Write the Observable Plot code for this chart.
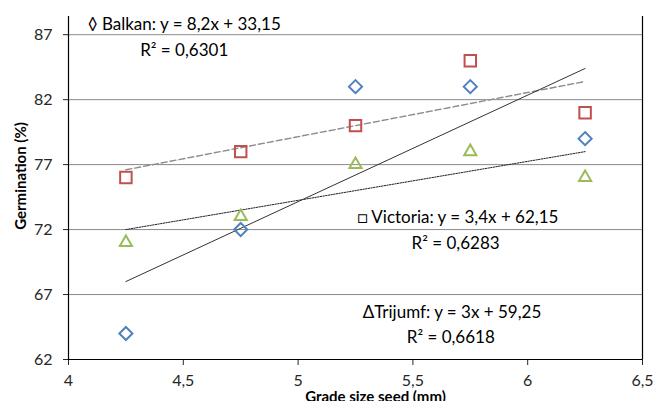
<!DOCTYPE html>
<html>
<head>
<meta charset="utf-8">
<script src="https://cdn.jsdelivr.net/npm/d3@7"></script>
<script src="https://cdn.jsdelivr.net/npm/@observablehq/plot@0.6"></script>
<style>
  html, body { margin: 0; padding: 0; background: white; }
</style>
</head>
<body>
<div id="chart"></div>
<script>
// Data
const grades = [4.25, 4.75, 5.25, 5.75, 6.25];          // grade size seed (mm)
const balkan = [64, 72, 83, 83, 79];                      // ◊ Balkan
const victoria = [76, 78, 80, 85, 81];                    // □ Victoria
const trijumf = [71, 73, 77, 78, 76];                     // Δ Trijumf
const xTicks = [4, 4.5, 5, 5.5, 6, 6.5];
const yTicks = [62, 67, 72, 77, 82, 87];
const eqLabels = ["◊ Balkan: y = 8,2x + 33,15", "□ Victoria: y = 3,4x + 62,15", "ΔTrijumf: y = 3x + 59,25"];
const r2Labels = ["R² = 0,6301", "R² = 0,6283", "R² = 0,6618"];
const xTitle = "Grade size seed (mm)";
const yTitle = "Germination (%)";

const toRows = (vals) => grades.map((g, i) => ({x: g, y: vals[i]}));
const B = toRows(balkan), V = toRows(victoria), T = toRows(trijumf);
const fmt = d => String(d).replace(".", ",");

const W = 653, H = 401;
const font = "Lato, 'Open Sans', sans-serif";

const chart = Plot.plot({
  width: W,
  height: H,
  marginLeft: 68,
  marginRight: 11,
  marginTop: 16,
  marginBottom: 42,
  style: {fontFamily: font, fontSize: "16px", background: "white", color: "#262626", overflow: "visible"},
  x: {domain: [xTicks[0], xTicks[xTicks.length - 1]], ticks: xTicks, tickFormat: fmt, tickSize: 6, tickPadding: 9, label: null},
  y: {domain: [62, 88.4], ticks: yTicks, tickFormat: fmt, tickSize: 5, tickPadding: 11, label: null},
  marks: [
    Plot.ruleY(yTicks.slice(1), {stroke: "#8a8a8a", strokeWidth: 1}),
    Plot.ruleY([yTicks[0]], {stroke: "#000", strokeWidth: 1.2}),
    Plot.ruleX([xTicks[0]], {stroke: "#000", strokeWidth: 1.2}),
    Plot.ruleX([xTicks[xTicks.length - 1]], {stroke: "#000", strokeWidth: 1.2}),
    // trend lines
    Plot.linearRegressionY(V, {x: "x", y: "y", ci: 0, stroke: "#8c8c8c", strokeWidth: 1.4, strokeDasharray: "6,3"}),
    Plot.linearRegressionY(T, {x: "x", y: "y", ci: 0, stroke: "#222", strokeWidth: 1, strokeDasharray: "1.5,1.2"}),
    Plot.linearRegressionY(B, {x: "x", y: "y", ci: 0, stroke: "#333", strokeWidth: 1}),
    // points
    Plot.dot(B, {x: "x", y: "y", symbol: "diamond2", r: 5.9, stroke: "#4f81bd", strokeWidth: 2, fill: "none"}),
    Plot.dot(V, {x: "x", y: "y", symbol: "square2", r: 7.3, stroke: "#c0504d", strokeWidth: 2, fill: "none"}),
    Plot.dot(T, {x: "x", y: "y", symbol: "triangle2", r: 5.8, stroke: "#9bbb59", strokeWidth: 2, fill: "none"}),
    // equation annotations
    Plot.text([eqLabels[0]], {x: 4.504, y: 87.75, text: d => d, fontSize: 17, fill: "#000", textAnchor: "middle"}),
    Plot.text([r2Labels[0]], {x: 4.504, y: 85.8, text: d => d, fontSize: 17, fill: "#000", textAnchor: "middle"}),
    Plot.text([eqLabels[1]], {x: 5.696, y: 72.92, text: d => d, fontSize: 17, fill: "#000", textAnchor: "middle"}),
    Plot.text([r2Labels[1]], {x: 5.686, y: 70.92, text: d => d, fontSize: 17, fill: "#000", textAnchor: "middle"}),
    Plot.text([eqLabels[2]], {x: 5.670, y: 65.62, text: d => d, fontSize: 17, fill: "#000", textAnchor: "middle"}),
    Plot.text([r2Labels[2]], {x: 5.665, y: 63.69, text: d => d, fontSize: 17, fill: "#000", textAnchor: "middle"}),
    // axis titles
    Plot.text([yTitle], {frameAnchor: "left", textAnchor: "middle", text: d => d, rotate: -90, dx: -47, dy: -12, fontSize: 15, fontWeight: "bold", fill: "#000"}),
    Plot.text([xTitle], {frameAnchor: "bottom", textAnchor: "middle", text: d => d, dx: 20, dy: 42, fontSize: 15, fontWeight: "bold", fill: "#000"})
  ]
});
document.getElementById("chart").appendChild(chart);
</script>
</body>
</html>
